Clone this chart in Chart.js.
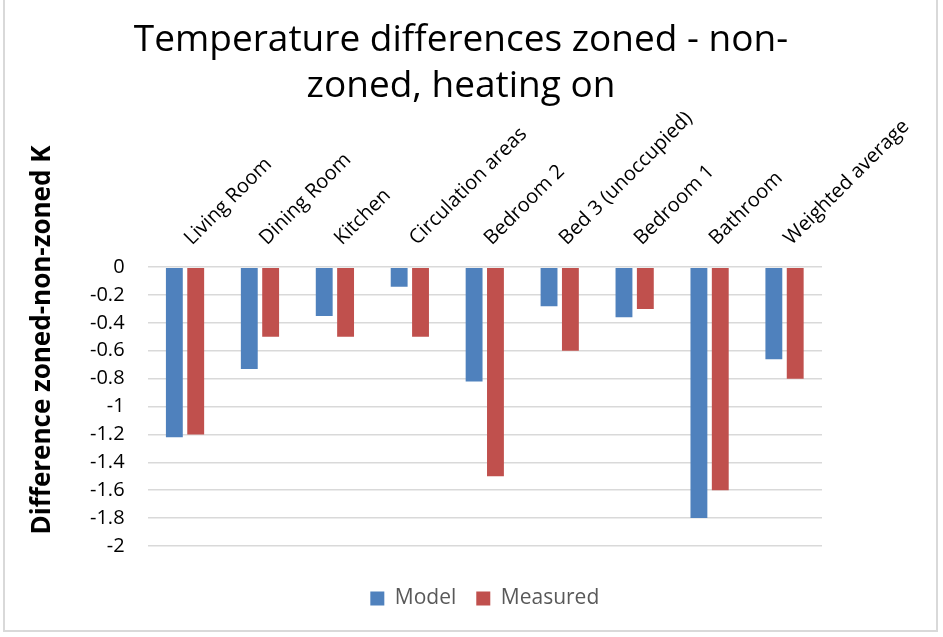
<!DOCTYPE html>
<html>
<head>
<meta charset="utf-8">
<script src="https://cdn.jsdelivr.net/npm/chart.js@4"></script>
<style>
  html, body { margin: 0; padding: 0; background: #fff; }
  #wrap { position: relative; width: 943px; height: 637px; overflow: hidden; }
  #frame { position: absolute; left: 3px; top: -3px; width: 935px; height: 635px; border: 2px solid #d9d9d9; box-sizing: border-box; }
  #chart { position: absolute; left: 0; top: 0; }
</style>
</head>
<body>
<div id="wrap">
  <div id="frame"></div>
  <canvas id="chart" width="943" height="637"></canvas>
</div>
<script>
// categories (rooms)
const rooms = ['Living Room', 'Dining Room', 'Kitchen', 'Circulation areas', 'Bedroom 2',
               'Bed 3 (unoccupied)', 'Bedroom 1', 'Bathroom', 'Weighted average'];

// series values, K
const modelDiff    = [-1.22, -0.73, -0.35, -0.14, -0.82, -0.28, -0.36, -1.80, -0.66];
const measuredDiff = [-1.20, -0.50, -0.50, -0.50, -1.50, -0.60, -0.30, -1.60, -0.80];

// y axis
const yMin = -2;
const yMax = 0;
const yStep = 0.2;

const titleLines = ['Temperature differences zoned - non-', 'zoned, heating on'];
const yTitle = 'Difference zoned-non-zoned K';

const FONT = "'Open Sans', 'Noto Sans', sans-serif";
const TITLE_SIZE = 37;
const TITLE_LH = 1.24;

// Excel centres the title on the whole chart and the y title beside the plot,
// chart.js can't do either, so draw both here (the chart.js title only keeps the space)
const textPlugin = {
    id: 'excelText',
    afterDraw(chart) {
        const ctx = chart.ctx;
        const tb = chart.titleBlock;
        ctx.save();
        ctx.fillStyle = '#000';
        ctx.textAlign = 'center';
        ctx.textBaseline = 'middle';
        ctx.font = TITLE_SIZE + 'px ' + FONT;
        const lh = TITLE_SIZE * TITLE_LH;
        titleLines.forEach((line, i) => {
            ctx.fillText(line, 461, tb.top + 18 + lh * (i + 0.5));
        });

        ctx.translate(43, 340);
        ctx.rotate(-Math.PI / 2);
        ctx.font = 'bold 26px ' + FONT;
        ctx.fillText(yTitle, 0, 0);
        ctx.restore();
    }
};

const ctx = document.getElementById('chart').getContext('2d');
new Chart(ctx, {
    type: 'bar',
    data: {
        labels: rooms,
        datasets: [
            {
                label: 'Model',
                data: modelDiff,
                backgroundColor: '#4F81BD',
                barPercentage: 0.79,
                categoryPercentage: 0.57
            },
            {
                label: 'Measured',
                data: measuredDiff,
                backgroundColor: '#C0504D',
                barPercentage: 0.79,
                categoryPercentage: 0.57
            }
        ]
    },
    options: {
        responsive: false,
        animation: false,
        layout: {
            padding: { left: 67, right: 121, top: 0, bottom: 18 }
        },
        plugins: {
            title: {
                display: true,
                text: titleLines,
                color: 'rgba(0,0,0,0)',
                font: { family: FONT, size: TITLE_SIZE, weight: 'normal', lineHeight: TITLE_LH },
                padding: { top: 19, bottom: -13 }
            },
            // empty spacer between plot and legend
            subtitle: {
                display: true,
                text: ' ',
                position: 'bottom',
                weight: 500,
                font: { size: 1, lineHeight: 1 },
                padding: { top: 15, bottom: 6 }
            },
            legend: {
                position: 'bottom',
                fullSize: false,
                labels: {
                    color: '#595959',
                    font: { family: FONT, size: 21 },
                    boxWidth: 14,
                    boxHeight: 14,
                    padding: 20
                }
            },
            tooltip: { enabled: false }
        },
        scales: {
            x: {
                position: 'top',
                grid: { display: false },
                border: { display: false },
                ticks: {
                    color: '#000',
                    font: { family: FONT, size: 20 },
                    minRotation: 45,
                    maxRotation: 45,
                    padding: 9,
                    labelOffset: 20
                }
            },
            y: {
                min: yMin,
                max: yMax,
                grid: { color: '#d9d9d9', lineWidth: 1.5, drawTicks: false },
                border: { display: false },
                ticks: {
                    stepSize: yStep,
                    color: '#000',
                    font: { family: FONT, size: 20 },
                    padding: 23,
                    callback: (v) => String(Number(v.toFixed(1)))
                }
            }
        }
    },
    plugins: [textPlugin]
});
</script>
</body>
</html>
